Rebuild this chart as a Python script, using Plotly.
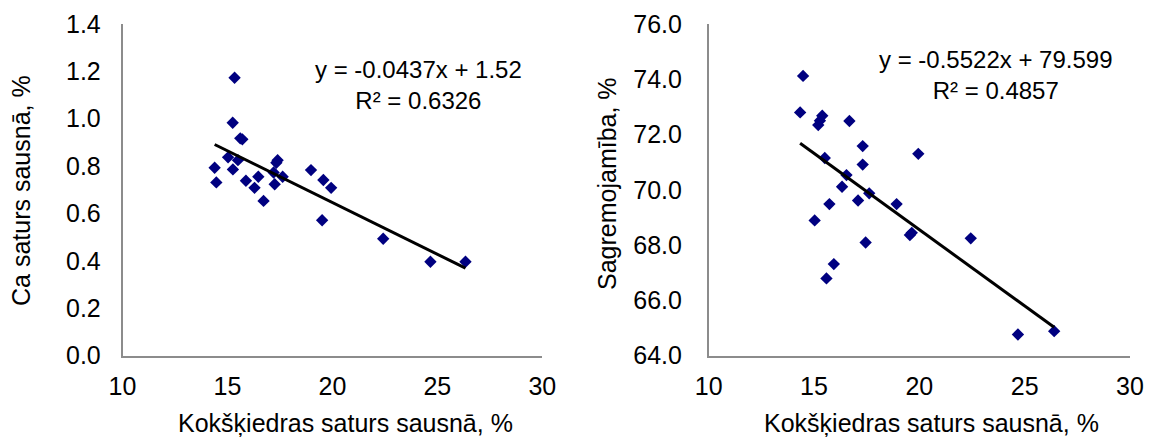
import plotly.graph_objects as go

# ---- data ----
x_ca = [14.39, 14.47, 15.03, 15.25, 15.26, 15.34, 15.50, 15.61, 15.71, 15.88, 16.29, 16.47, 16.72,
        17.20, 17.25, 17.33, 17.39, 17.63, 18.98, 19.51, 19.57, 19.94, 22.42, 24.67, 26.34]
ca = [0.793, 0.731, 0.837, 0.983, 0.786, 1.173, 0.825, 0.917, 0.913, 0.738, 0.708, 0.755, 0.653,
      0.773, 0.723, 0.814, 0.825, 0.755, 0.783, 0.571, 0.741, 0.708, 0.493, 0.396, 0.396]

x_dig = [14.34, 14.48, 15.03, 15.20, 15.28, 15.39, 15.51, 15.59, 15.73, 15.94, 16.33, 16.54, 16.68,
         17.09, 17.31, 17.31, 17.45, 17.62, 18.92, 19.55, 19.64, 19.95, 22.44, 24.68, 26.40]
dig = [72.80, 74.12, 68.89, 72.34, 72.50, 72.68, 71.15, 66.79, 69.48, 67.31, 70.11, 70.53, 72.49,
       69.61, 71.58, 70.91, 68.09, 69.87, 69.48, 68.36, 68.44, 71.30, 68.24, 64.76, 64.88]

# published trendline coefficients
ca_slope, ca_intercept, ca_r2 = -0.0437, 1.52, 0.6326
dig_slope, dig_intercept, dig_r2 = -0.5522, 79.599, 0.4857

x_ticks = [10, 15, 20, 25, 30]
ca_ticks = [0.0, 0.2, 0.4, 0.6, 0.8, 1.0, 1.2, 1.4]
dig_ticks = [64.0, 66.0, 68.0, 70.0, 72.0, 74.0, 76.0]

x_title = "Kokšķiedras saturs sausnā, %"
ca_title = "Ca saturs sausnā, %"
dig_title = "Sagremojamība, %"

# ---- layout helpers ----
W, H = 1157, 439
def px(x):
    return x / W
def py(y):
    return 1 - y / H

FONT = "Liberation Sans, Arial, sans-serif"
FS = 25
MARK = "#000080"
AXC = "#8c8c8c"

fig = go.Figure()

fig.add_trace(go.Scatter(x=x_ca, y=ca, mode="markers", xaxis="x", yaxis="y",
                         marker=dict(symbol="diamond", size=9.5, color=MARK, line=dict(width=0)),
                         showlegend=False))
tx = [min(x_ca), max(x_ca)]
fig.add_trace(go.Scatter(x=tx, y=[ca_slope * v + ca_intercept for v in tx], mode="lines",
                         xaxis="x", yaxis="y", line=dict(color="black", width=3), showlegend=False))

fig.add_trace(go.Scatter(x=x_dig, y=dig, mode="markers", xaxis="x2", yaxis="y2",
                         marker=dict(symbol="diamond", size=9.5, color=MARK, line=dict(width=0)),
                         showlegend=False))
tx2 = [min(x_dig), max(x_dig)]
fig.add_trace(go.Scatter(x=tx2, y=[dig_slope * v + dig_intercept for v in tx2], mode="lines",
                         xaxis="x2", yaxis="y2", line=dict(color="black", width=3), showlegend=False))

common_x = dict(range=[10, 30], tickvals=x_ticks, showgrid=False, zeroline=False,
                showline=True, linecolor=AXC, linewidth=1.5, ticks="", automargin=False,
                tickfont=dict(family=FONT, size=FS, color="black"), ticklabelstandoff=8)
common_y = dict(showgrid=False, zeroline=False, showline=True, linecolor=AXC, linewidth=1.5,
                ticks="", tickformat=".1f", automargin=False,
                tickfont=dict(family=FONT, size=FS, color="black"))

yd = [py(355.5), py(24)]
fig.update_layout(
    template="none",
    width=W, height=H, margin=dict(l=0, r=0, t=0, b=0, autoexpand=False),
    paper_bgcolor="white", plot_bgcolor="white",
    xaxis=dict(domain=[px(122.5), px(542.3)], anchor="y", **common_x),
    yaxis=dict(domain=yd, anchor="x", range=[0, 1.4], tickvals=ca_ticks,
               ticklabelstandoff=15, **common_y),
    xaxis2=dict(domain=[px(708.7), px(1130)], anchor="y2", **common_x),
    yaxis2=dict(domain=yd, anchor="x2", range=[64, 76], tickvals=dig_ticks,
                ticklabelstandoff=20, **common_y),
)

def ann(text, x, y, angle=0, size=FS):
    fig.add_annotation(text=text, x=px(x), y=py(y), xref="paper", yref="paper",
                       xanchor="center", yanchor="middle", showarrow=False, textangle=angle,
                       font=dict(family=FONT, size=size, color="black"))

ann(x_title, 345, 423)
ann(x_title, 931.7, 423)
ann(ca_title, 21, 191, -90)
ann(dig_title, 607, 184, -90)

ann(f"y = {ca_slope}x + {ca_intercept}<br>R² = {ca_r2}", 418, 85, size=24)
ann(f"y = {dig_slope}x + {dig_intercept}<br>R² = {dig_r2}", 996, 75, size=24)

fig.write_html("out.html", config={"displayModeBar": False},
               post_script="document.body.style.margin='0';")
